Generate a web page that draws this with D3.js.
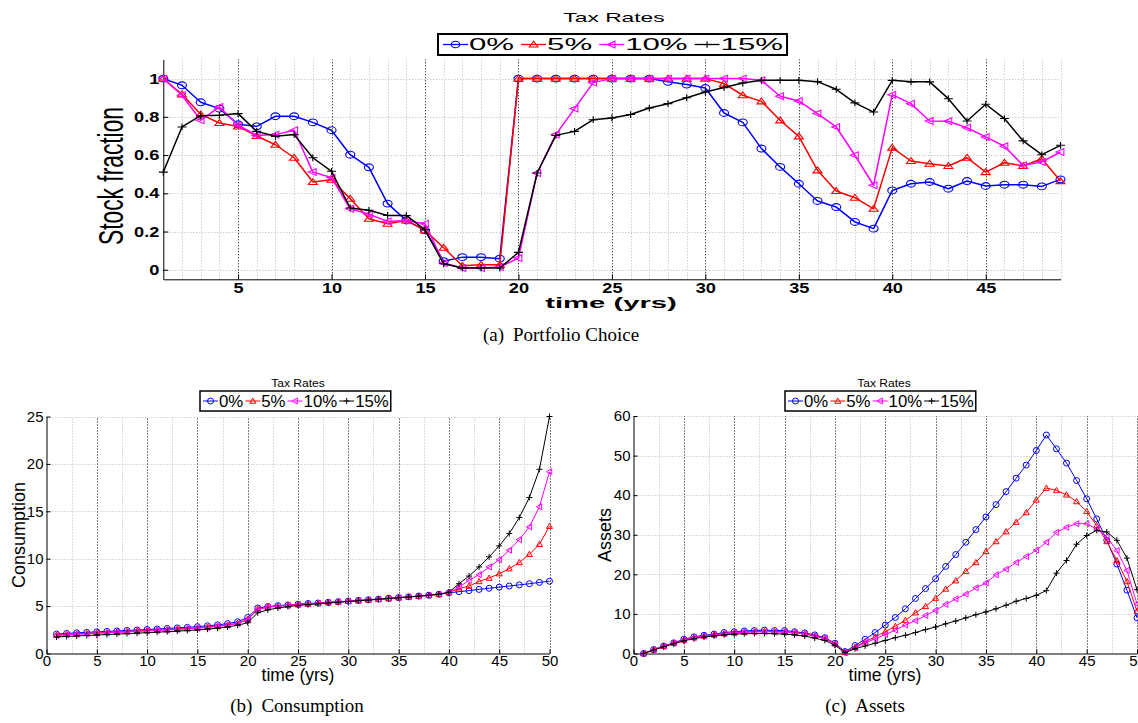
<!DOCTYPE html>
<html>
<head>
<meta charset="utf-8">
<script src="https://cdn.jsdelivr.net/npm/d3@7"></script>
<style>
  body { margin: 0; background: #fff; }
  svg { display: block; }
</style>
</head>
<body>
<svg id="fig" width="1138" height="723"></svg>
<script>
// ---- data -------------------------------------------------------------
const taxLabels = ["0%", "5%", "10%", "15%"];
const seriesColors = ["#0000ff", "#ff0000", "#ff00ff", "#000000"];
const markerKinds = ["circle", "triUp", "triLeft", "plus"];

const stockYears = d3.range(1, 50);   // 1..49
const lifeYears = d3.range(1, 51);    // 1..50

// (a) share of wealth held in stocks
const stock0 = [1.0,0.965,0.876,0.843,0.761,0.75,0.803,0.803,0.771,0.73,
  0.602,0.536,0.346,0.258,0.206,0.045,0.066,0.066,0.058,1.0,
  1.0,1.0,1.0,1.0,1.0,1.0,1.0,0.983,0.969,0.951,
  0.82,0.771,0.634,0.538,0.45,0.36,0.328,0.25,0.215,0.415,
  0.45,0.459,0.424,0.464,0.438,0.445,0.445,0.436,0.473];
const stock5 = [1.0,0.918,0.813,0.768,0.75,0.70,0.654,0.586,0.459,0.471,
  0.372,0.267,0.241,0.258,0.206,0.115,0.021,0.026,0.026,1.0,
  1.0,1.0,1.0,1.0,1.0,1.0,1.0,1.0,1.0,1.0,
  0.974,0.913,0.881,0.782,0.698,0.52,0.412,0.377,0.319,0.639,
  0.569,0.555,0.543,0.586,0.511,0.56,0.543,0.581,0.464];
const stock10 = [1.0,0.913,0.782,0.852,0.756,0.703,0.707,0.73,0.511,0.482,
  0.319,0.29,0.253,0.258,0.241,0.035,0.009,0.009,0.014,0.061,
  0.506,0.707,0.843,0.979,1.0,1.0,1.0,1.0,1.0,1.0,
  1.0,1.0,0.991,0.908,0.883,0.817,0.747,0.599,0.442,0.916,
  0.869,0.778,0.777,0.743,0.695,0.646,0.546,0.564,0.616];
const stock15 = [0.511,0.747,0.806,0.808,0.817,0.724,0.698,0.707,0.586,0.515,
  0.323,0.311,0.284,0.284,0.209,0.031,0.009,0.009,0.009,0.091,
  0.506,0.703,0.724,0.785,0.794,0.812,0.846,0.869,0.9,0.93,
  0.953,0.977,0.991,0.991,0.991,0.984,0.944,0.873,0.825,0.991,
  0.983,0.983,0.895,0.778,0.866,0.791,0.674,0.602,0.651];

// (b) consumption
const cons0 = [2.05,2.12,2.18,2.23,2.28,2.33,2.38,2.43,2.48,2.53,
  2.58,2.64,2.7,2.76,2.83,2.92,3.02,3.15,3.35,3.8,
  4.8,4.95,5.05,5.12,5.2,5.27,5.33,5.4,5.47,5.53,
  5.6,5.67,5.74,5.82,5.9,5.98,6.06,6.15,6.25,6.4,
  6.52,6.63,6.76,6.88,7.0,7.12,7.24,7.36,7.5,7.62];
const cons5 = [1.95,2.02,2.07,2.12,2.17,2.22,2.27,2.32,2.37,2.42,
  2.47,2.52,2.58,2.64,2.71,2.79,2.89,3.02,3.2,3.62,
  4.7,4.9,5.0,5.08,5.16,5.23,5.3,5.37,5.44,5.51,
  5.58,5.65,5.72,5.8,5.88,5.96,6.05,6.14,6.25,6.45,
  6.83,7.12,7.6,7.96,8.42,8.95,9.6,10.47,11.53,13.43];
const cons10 = [1.9,1.97,2.03,2.08,2.13,2.18,2.23,2.28,2.33,2.38,
  2.43,2.48,2.54,2.6,2.67,2.75,2.85,2.98,3.16,3.55,
  4.65,4.88,5.0,5.08,5.16,5.23,5.3,5.37,5.44,5.51,
  5.58,5.65,5.72,5.8,5.88,5.96,6.05,6.14,6.25,6.45,
  7.0,7.72,8.32,9.13,9.9,10.89,12.02,13.36,15.48,19.18];
const cons15 = [1.75,1.8,1.85,1.9,1.95,2.0,2.05,2.1,2.15,2.2,
  2.25,2.3,2.36,2.42,2.49,2.57,2.67,2.8,2.98,3.25,
  4.3,4.6,4.8,4.95,5.07,5.16,5.24,5.32,5.4,5.48,
  5.56,5.64,5.72,5.8,5.88,5.96,6.05,6.14,6.25,6.45,
  7.36,8.17,9.13,10.19,11.35,12.65,14.35,16.46,19.43,25.0];

// (c) assets
const assets0 = [0,1.0,1.9,2.7,3.6,4.2,4.6,4.9,5.3,5.5,
  5.7,5.8,5.9,5.8,5.8,5.5,5.2,4.7,4.0,2.6,
  0.5,2.0,3.6,5.3,7.2,9.1,11.3,13.9,16.4,18.9,
  22.0,25.0,28.1,31.3,34.5,37.6,40.9,44.3,47.6,51.3,
  55.2,51.7,48.1,43.7,39.1,34.0,28.6,22.6,16.0,9.0];
const assets5 = [0,0.95,1.85,2.65,3.45,4.05,4.45,4.75,5.05,5.25,
  5.45,5.55,5.6,5.55,5.5,5.3,5.0,4.5,3.85,2.5,
  0.3,1.6,3.0,4.2,5.5,6.9,8.4,10.3,11.9,14.0,
  16.3,18.4,20.8,23.0,25.8,28.3,30.8,33.2,35.6,38.8,
  41.8,41.2,40.1,38.4,35.9,32.3,28.3,23.5,18.2,10.7];
const assets10 = [0,0.9,1.8,2.6,3.4,4.0,4.4,4.7,5.0,5.2,
  5.35,5.45,5.5,5.45,5.4,5.2,4.9,4.4,3.75,2.4,
  0.2,1.4,2.7,3.7,4.8,5.9,7.2,8.3,9.6,10.9,
  12.4,13.8,15.0,16.6,17.8,19.9,21.3,23.0,24.5,26.1,
  28.1,30.6,31.9,32.8,32.8,31.5,29.5,26.0,21.0,12.5];
const assets15 = [0,0.85,1.7,2.45,3.2,3.75,4.15,4.45,4.7,4.9,
  5.0,5.05,5.05,5.0,4.9,4.7,4.4,3.9,3.3,2.1,
  0.2,1.2,1.9,2.6,3.3,4.0,4.6,5.3,6.05,6.7,
  7.5,8.2,9.0,9.8,10.5,11.3,12.2,13.2,13.9,14.7,
  15.9,20.3,23.5,27.6,29.8,31.1,30.7,28.6,24.1,16.1];

// tick values
const stockTicksX = [5, 10, 15, 20, 25, 30, 35, 40, 45];
const stockTicksY = [0, 0.2, 0.4, 0.6, 0.8, 1];
const lifeTicksX = [0, 5, 10, 15, 20, 25, 30, 35, 40, 45, 50];
const consTicksY = [0, 5, 10, 15, 20, 25];
const assetTicksY = [0, 10, 20, 30, 40, 50, 60];

// ---- helpers ----------------------------------------------------------
const svg = d3.select("#fig");
const SANS = "'Liberation Sans', Arial, Helvetica, sans-serif";
const SERIF = "'Liberation Serif', 'Times New Roman', serif";

function label(g, str, x, y, o = {}) {
  let tf = `translate(${x},${y}) scale(${o.sx || 1},1)`;
  if (o.rotate) tf += ` rotate(${o.rotate})`;
  const t = g.append("text")
    .attr("transform", tf)
    .attr("text-anchor", o.anchor || "middle")
    .attr("font-family", o.family || SANS)
    .attr("font-size", o.size || 12)
    .attr("font-weight", o.weight || "normal")
    .attr("fill", "#000")
    .text(str);
  if (o.length) t.attr("textLength", o.length).attr("lengthAdjust", "spacingAndGlyphs");
  return t;
}

// sub-figure caption: "(x)" tag, a gap, then the caption text, centred as a whole
function caption(g, tag, str, cx, y, size, gap) {
  const a = label(g, tag, 0, y, { size, family: SERIF, anchor: "start" });
  const b = label(g, str, 0, y, { size, family: SERIF, anchor: "start" });
  const wa = a.node().getComputedTextLength();
  const wb = b.node().getComputedTextLength();
  const x0 = cx - (wa + gap + wb) / 2;
  a.attr("transform", `translate(${x0},${y})`);
  b.attr("transform", `translate(${x0 + wa + gap},${y})`);
}

function markerPath(kind, rx, ry) {
  switch (kind) {
    case "circle":
      return `M${-rx},0A${rx},${ry} 0 1,0 ${rx},0A${rx},${ry} 0 1,0 ${-rx},0Z`;
    case "triUp":
      return `M0,${-ry}L${rx},${ry * 0.75}L${-rx},${ry * 0.75}Z`;
    case "triLeft":
      return `M${-rx},0L${rx * 0.75},${-ry}L${rx * 0.75},${ry}Z`;
    default:
      return `M${-rx},0H${rx}M0,${-ry}V${ry}`;
  }
}

function legend(g, o) {
  const lg = g.append("g");
  const box = lg.append("rect")
    .attr("x", o.x).attr("y", o.y).attr("height", o.h)
    .attr("fill", "#fff").attr("stroke", "#000").attr("stroke-width", o.border);
  const cy = o.y + o.h / 2;
  let cx = o.x + o.padL;
  taxLabels.forEach((name, k) => {
    lg.append("line")
      .attr("x1", cx).attr("x2", cx + o.seg).attr("y1", cy).attr("y2", cy)
      .attr("stroke", seriesColors[k]).attr("stroke-width", o.lw);
    lg.append("path")
      .attr("transform", `translate(${cx + o.seg / 2},${cy})`)
      .attr("d", markerPath(markerKinds[k], o.mrx, o.mry))
      .attr("fill", "none").attr("stroke", seriesColors[k]).attr("stroke-width", o.mlw);
    cx += o.seg + o.gapText;
    const t = label(lg, name, cx, cy + o.size * 0.36, { size: o.size, sx: o.sx, anchor: "start" });
    cx += t.node().getComputedTextLength() * o.sx;
    if (k < taxLabels.length - 1) cx += o.gapNext;
  });
  box.attr("width", cx + o.padR - o.x);
}

function drawPanel(p) {
  const g = svg.append("g");
  const x = d3.scaleLinear().domain(p.xDomain).range(p.xRange);
  const y = d3.scaleLinear().domain(p.yDomain).range(p.yRange);
  const [yb, yt] = p.yRange;
  const [xl, xr] = p.xRange;

  // dotted grid
  const grid = g.append("g").attr("fill", "none").attr("stroke-width", 1)
    .attr("stroke-dasharray", "1,2");
  grid.selectAll("line.vmin").data(p.minorX).join("line").attr("class", "vmin")
    .attr("x1", d => Math.round(x(d)) + 0.5).attr("x2", d => Math.round(x(d)) + 0.5)
    .attr("y1", yb).attr("y2", yt).attr("stroke", "#b8b8b8");
  grid.selectAll("line.hmaj").data(p.gridY).join("line").attr("class", "hmaj")
    .attr("y1", d => Math.round(y(d)) + 0.5).attr("y2", d => Math.round(y(d)) + 0.5)
    .attr("x1", xl).attr("x2", xr).attr("stroke", "#b8b8b8");
  grid.selectAll("line.vmaj").data(p.majorX).join("line").attr("class", "vmaj")
    .attr("x1", d => Math.round(x(d)) + 0.5).attr("x2", d => Math.round(x(d)) + 0.5)
    .attr("y1", yb).attr("y2", yt).attr("stroke", "#000");

  // axes with inward ticks
  const ax = d3.axisBottom(x).tickValues(p.ticksX).tickSize(-p.tick).tickSizeOuter(0)
    .tickPadding(p.padX).tickFormat(d3.format("~g"));
  const gx = g.append("g").attr("transform", `translate(0,${yb})`).call(ax);
  const ay = d3.axisLeft(y).tickValues(p.ticksY).tickSize(-p.tick).tickSizeOuter(0)
    .tickPadding(p.padY / p.tsx).tickFormat(d3.format("~g"));
  const gy = g.append("g").attr("transform", `translate(${xl},0)`).call(ay);
  [gx, gy].forEach(a => {
    a.attr("font-family", SANS).attr("font-size", p.tickSize).attr("font-weight", p.tickWeight);
    a.selectAll(".domain").attr("stroke", "#000").attr("stroke-width", 1);
    a.selectAll(".tick line").attr("stroke", "#000");
    a.selectAll("text").attr("fill", "#000").attr("transform", `scale(${p.tsx},1)`);
  });

  // one line + markers per tax rate, drawn in legend order
  const line = d3.line().x((d, i) => x(p.xs[i])).y(d => y(d));
  p.series.forEach((vals, k) => {
    const s = g.append("g");
    s.append("path").datum(vals).attr("d", line)
      .attr("fill", "none").attr("stroke", seriesColors[k])
      .attr("stroke-width", p.lw).attr("stroke-linejoin", "round");
    s.selectAll("path.mk").data(vals).join("path").attr("class", "mk")
      .attr("transform", (d, i) => `translate(${x(p.xs[i])},${y(d)})`)
      .attr("d", markerPath(markerKinds[k], p.mrx, p.mry))
      .attr("fill", "none").attr("stroke", seriesColors[k]).attr("stroke-width", p.mlw);
  });
  return g;
}

// ---- (a) portfolio choice ---------------------------------------------
const panelA = drawPanel({
  xs: stockYears,
  series: [stock0, stock5, stock10, stock15],
  xDomain: [1, 49], xRange: [163.3, 1060.5],
  yDomain: [-0.05, 1.1], yRange: [279.3, 59.5],
  minorX: stockYears.filter(d => d > 1 && d % 5 !== 0),
  majorX: stockTicksX,
  gridY: stockTicksY,
  ticksX: stockTicksX, ticksY: stockTicksY,
  tick: 5, padX: 4, padY: 4, tickSize: 14, tickWeight: "bold", tsx: 1.3,
  lw: 1.5, mlw: 1.1, mrx: 4.5, mry: 3.4
});
label(panelA, "Tax Rates", 614, 22, { size: 12, sx: 1.9 });
legend(panelA, { x: 438, y: 34, h: 21, size: 16, sx: 1.95, seg: 25, gapText: 1, gapNext: 7,
  padL: 5, padR: 4, lw: 1.3, mlw: 1.1, mrx: 4.3, mry: 3.3, border: 2 });
label(panelA, "Stock fraction", 123, 176, { size: 19, sx: 1.85, rotate: -90, length: 138 });
label(panelA, "time (yrs)", 611, 308, { size: 15, sx: 1.95, weight: "bold" });
caption(panelA, "(a)", "Portfolio Choice", 561, 341, 19, 9);

// ---- (b) consumption --------------------------------------------------
const panelB = drawPanel({
  xs: lifeYears,
  series: [cons0, cons5, cons10, cons15],
  xDomain: [0, 50], xRange: [46.5, 549.5],
  yDomain: [0, 25], yRange: [653.5, 416.5],
  minorX: d3.range(2.5, 50, 5),
  majorX: lifeTicksX.filter(d => d > 0),
  gridY: consTicksY.filter(d => d > 0),
  ticksX: lifeTicksX, ticksY: consTicksY,
  tick: 4, padX: 2, padY: 3, tickSize: 15, tickWeight: "normal", tsx: 1,
  lw: 1, mlw: 1, mrx: 3, mry: 3
});
label(panelB, "Tax Rates", 298, 387, { size: 11, sx: 1.1 });
legend(panelB, { x: 200, y: 391, h: 20, size: 16, sx: 1.05, seg: 15, gapText: 1, gapNext: 2,
  padL: 3, padR: 2, lw: 1, mlw: 1, mrx: 3, mry: 3, border: 1.5 });
label(panelB, "Consumption", 25, 535, { size: 18, rotate: -90 });
label(panelB, "time (yrs)", 298, 681, { size: 17.5 });
caption(panelB, "(b)", "Consumption", 297, 712, 19, 9);

// ---- (c) assets -------------------------------------------------------
const panelC = drawPanel({
  xs: lifeYears,
  series: [assets0, assets5, assets10, assets15],
  xDomain: [0, 50], xRange: [633.5, 1137],
  yDomain: [0, 60], yRange: [653.5, 416],
  minorX: d3.range(2.5, 50, 5),
  majorX: lifeTicksX.filter(d => d > 0),
  gridY: assetTicksY.filter(d => d > 0),
  ticksX: lifeTicksX, ticksY: assetTicksY,
  tick: 4, padX: 2, padY: 3, tickSize: 15, tickWeight: "normal", tsx: 1,
  lw: 1, mlw: 1, mrx: 3, mry: 3
});
label(panelC, "Tax Rates", 884, 387, { size: 11, sx: 1.1 });
legend(panelC, { x: 785, y: 391, h: 20, size: 16, sx: 1.05, seg: 15, gapText: 1, gapNext: 2,
  padL: 3, padR: 2, lw: 1, mlw: 1, mrx: 3, mry: 3, border: 1.5 });
label(panelC, "Assets", 611, 535, { size: 18, rotate: -90 });
label(panelC, "time (yrs)", 885, 681, { size: 17.5 });
caption(panelC, "(c)", "Assets", 865, 712, 19, 9);
</script>
</body>
</html>
